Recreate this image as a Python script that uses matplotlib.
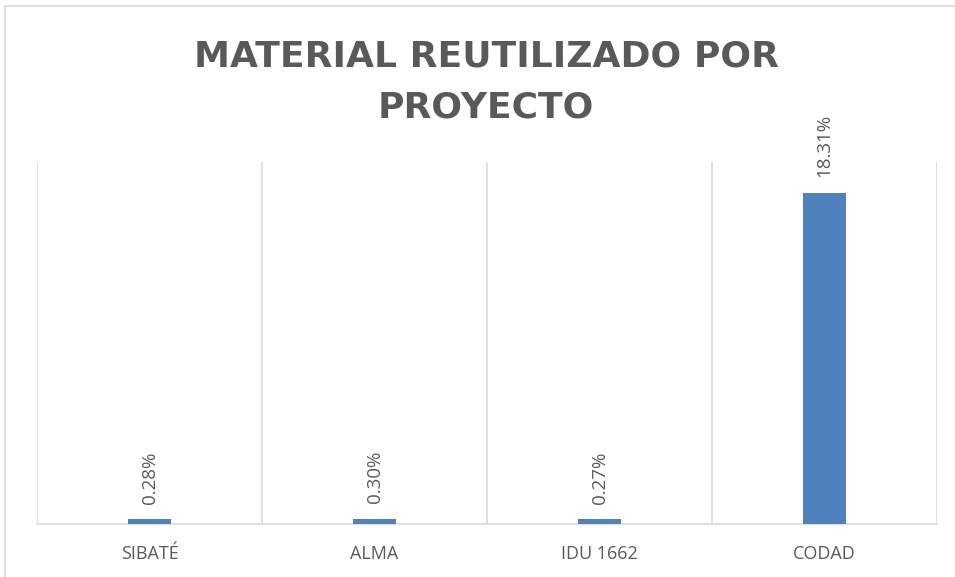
import matplotlib
matplotlib.use("Agg")
import matplotlib.pyplot as plt
from matplotlib.lines import Line2D
import numpy as np

categories = ["SIBATÉ", "ALMA", "IDU 1662", "CODAD"]
values = [0.0028, 0.0030, 0.0027, 0.1831]
labels = ["0.28%", "0.30%", "0.27%", "18.31%"]
title = "MATERIAL REUTILIZADO POR\nPROYECTO"

plt.rcParams['font.family'] = ['Open Sans', 'DejaVu Sans']

fig = plt.figure(figsize=(9.55, 5.77), dpi=100)
ax = fig.add_axes([37/955, 1-524/577, 900/955, (524-162)/577])

x = np.arange(len(categories))
bars = ax.bar(x, values, width=0.187, color="#4F81BD", zorder=3)
ax.set_xlim(-0.5, len(categories) - 0.5)
ax.set_ylim(0, 0.20)

for xi, v, lab in zip(x, values, labels):
    ax.annotate(lab, (xi, v), xytext=(0, 11), textcoords="offset points",
                rotation=90, ha="center", va="bottom", fontsize=13.5, color="#595959")

ax.set_xticks(x)
ax.set_xticklabels(categories, fontsize=13, color="#595959")
ax.tick_params(axis="x", length=0, pad=15)
ax.set_yticks([])
ax.set_xticks(np.arange(-0.5, len(categories), 1.0), minor=True)
ax.tick_params(axis="x", which="minor", length=0)
ax.grid(True, axis="x", which="minor", color="#d9d9d9", linewidth=1.2, zorder=0)
for s in ["left", "right", "top"]:
    ax.spines[s].set_visible(False)
ax.spines["bottom"].set_color("#d9d9d9")
ax.spines["bottom"].set_linewidth(1.2)

fig.text(486/955, 1-82/577, title, ha="center", va="center", fontsize=26,
         fontweight="bold", color="#595959", linespacing=1.6,
         family=['DejaVu Sans'])

# chart border (top and left visible)
fig.add_artist(Line2D([5/955, 1], [1-6/577, 1-6/577], color="#d9d9d9", linewidth=1.2, transform=fig.transFigure))
fig.add_artist(Line2D([5/955, 5/955], [0, 1-6/577], color="#d9d9d9", linewidth=1.2, transform=fig.transFigure))

fig.savefig("out.png", dpi=100)
